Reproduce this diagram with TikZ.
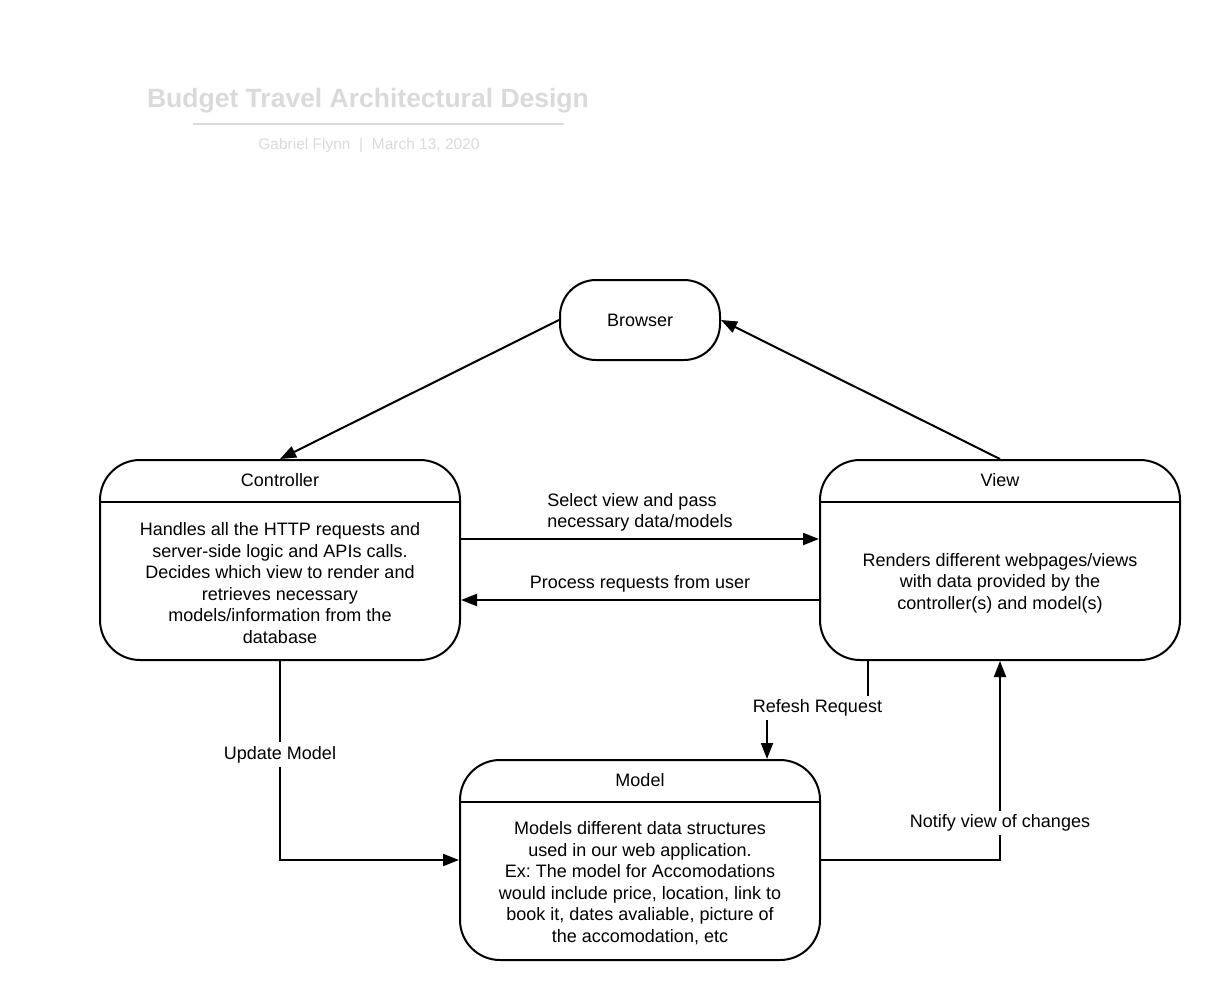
\documentclass[tikz,border=0pt]{standalone}
\usepackage{fontspec}
\setmainfont{Liberation Sans}
\usetikzlibrary{arrows.meta,positioning}
\definecolor{titlegray}{RGB}{218,218,218}
\frenchspacing

\tikzstyle{comp} = [rectangle, rounded corners=20pt, minimum width=180pt, minimum height=100pt, draw=black, line width=1pt]
\tikzstyle{pill} = [rectangle, rounded corners=18pt, minimum width=80pt, minimum height=40pt, draw=black, line width=1pt]
\tikzstyle{flow} = [-{Triangle[length=8pt,width=6pt]}, line width=1pt]
\tikzstyle{lbl} = [fill=white, inner sep=2pt]

\begin{document}
\begin{tikzpicture}[-,x=0.5pt,y=-0.5pt,line width=1pt,font=\fontsize{9}{10.75}\selectfont]
\useasboundingbox (0,0) rectangle (1220,1000);

% title block
\node[text=titlegray, font=\fontsize{13.25}{16}\selectfont\bfseries] (Title) at (368,101) {Budget Travel Architectural Design};
\draw[titlegray] (193,124) -- (564,124);
\node[text=titlegray, font=\fontsize{7.75}{9}\selectfont] (Subtitle) at (369,146) {Gabriel Flynn~~|~~March 13, 2020};

\node[pill] (Browser) at (640,320) {Browser};
\node[comp] (Controller) at (280,560) {};
\node[comp] (View) at (1000,560) {};
\node[comp] (Model) at (640,860) {};

\node (ControllerTitle) at ([yshift=-10.5pt]Controller.north) {Controller};
\draw ([yshift=-21.5pt]Controller.north west) -- ([yshift=-21.5pt]Controller.north east);
\node[align=center] (ControllerText) at ([yshift=-11.5pt]Controller.center) {Handles all the HTTP requests and\\server-side logic and APIs calls.\\Decides which view to render and\\retrieves necessary\\models/information from the\\database};

\node (ViewTitle) at ([yshift=-10.5pt]View.north) {View};
\draw ([yshift=-21.5pt]View.north west) -- ([yshift=-21.5pt]View.north east);
\node[align=center] (ViewText) at ([yshift=-11.5pt]View.center) {Renders different webpages/views\\with data provided by the\\controller(s) and model(s)};

\node (ModelTitle) at ([yshift=-10.5pt]Model.north) {Model};
\draw ([yshift=-21.5pt]Model.north west) -- ([yshift=-21.5pt]Model.north east);
\node[align=center] (ModelText) at ([yshift=-11.5pt]Model.center) {Models different data structures\\used in our web application.\\Ex: The model for Accomodations\\would include price, location, link to\\book it, dates avaliable, picture of\\the accomodation, etc};

\path[flow]
    (Browser.west) edge (Controller.north)
    (View.north) edge (Browser.east)
    ([yshift=10.5pt]Controller.east) edge node [above, align=left] {Select view and pass\\necessary data/models} ([yshift=10.5pt]View.west)
    ([yshift=-20pt]View.west) edge node [above] {Process requests from user} ([yshift=-20pt]Controller.east)
    ;

\draw[flow] (Controller.south) |- node[lbl, pos=0.235] {Update Model} (Model.west);
\draw[flow] (Model.east) -| node[lbl, pos=0.593] {Notify view of changes} (View.south);
\draw[flow] ([xshift=-66pt]View.south) -- ++(0,47) -| node[lbl, pos=0.25] {Refesh Request} ([xshift=63.5pt]Model.north);

\end{tikzpicture}
\end{document}
